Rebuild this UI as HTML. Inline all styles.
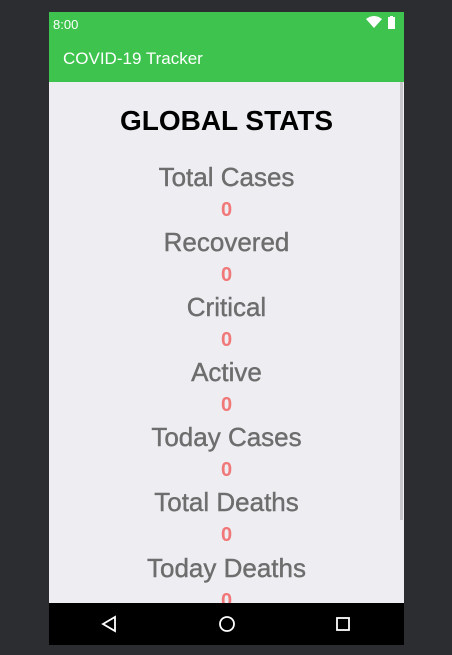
<!DOCTYPE html>
<html><head><meta charset="utf-8"><style>
*{margin:0;padding:0;box-sizing:border-box}
body{width:452px;height:655px;background:#2c2d30;position:relative;overflow:hidden;font-family:"Liberation Sans",sans-serif}
#phone{position:absolute;left:49px;top:12px;width:355px;height:633px;background:#eeedf2;overflow:hidden}
#status{position:absolute;left:0;top:0;width:355px;height:24px;background:#3ec44e;color:#fff;font-size:13px}
#appbar{position:absolute;left:0;top:24px;width:355px;height:46px;background:#3ec44e;color:#fff;font-size:17px;line-height:46px;padding-left:14px}
#content{position:absolute;left:0;top:70px;width:355px;height:521px}
.t{position:absolute;left:0;width:355px;text-align:center}
.lbl{font-size:26px;color:#6d6d6d;-webkit-text-stroke:0.4px #6d6d6d}
.val{font-size:20px;font-weight:bold;color:#f07878}
#nav{position:absolute;left:0;top:591px;width:355px;height:42px;background:#000}
</style></head><body>
<div id="phone">
<div id="status">
<span style="position:absolute;left:4px;top:5px">8:00</span>
<svg style="position:absolute;left:317px;top:4px" width="32" height="14"><path d="M0 3 Q8 -3 16 3 L8 12 Z" fill="#fff"/><rect x="22" y="1" width="7" height="12" fill="#fff"/><rect x="24" y="0" width="3" height="2" fill="#fff"/></svg>
</div>
<div id="appbar">COVID-19 Tracker</div>
<div id="content">
<div class="t" style="top:23px;font-size:28px;font-weight:bold;color:#000">GLOBAL STATS</div>
<div class="t lbl" style="top:80px">Total Cases</div>
<div class="t val" style="top:117px">0</div>
<div class="t lbl" style="top:145px">Recovered</div>
<div class="t val" style="top:182px">0</div>
<div class="t lbl" style="top:210px">Critical</div>
<div class="t val" style="top:247px">0</div>
<div class="t lbl" style="top:275px">Active</div>
<div class="t val" style="top:312px">0</div>
<div class="t lbl" style="top:340px">Today Cases</div>
<div class="t val" style="top:377px">0</div>
<div class="t lbl" style="top:405px">Total Deaths</div>
<div class="t val" style="top:442px">0</div>
<div class="t lbl" style="top:471px">Today Deaths</div>
<div class="t val" style="top:508px">0</div>
<div style="position:absolute;left:351px;top:0;width:3px;height:438px;background:#c8c8cc"></div>
</div>
<div id="nav">
<svg width="355" height="42">
<path d="M54 21 L66 14 L66 28 Z" fill="none" stroke="#fff" stroke-width="1.8"/>
<circle cx="178" cy="21" r="7" fill="none" stroke="#fff" stroke-width="1.8"/>
<rect x="288" y="15" width="12" height="12" fill="none" stroke="#fff" stroke-width="1.8"/>
</svg>
</div>
</div>
</body></html>
